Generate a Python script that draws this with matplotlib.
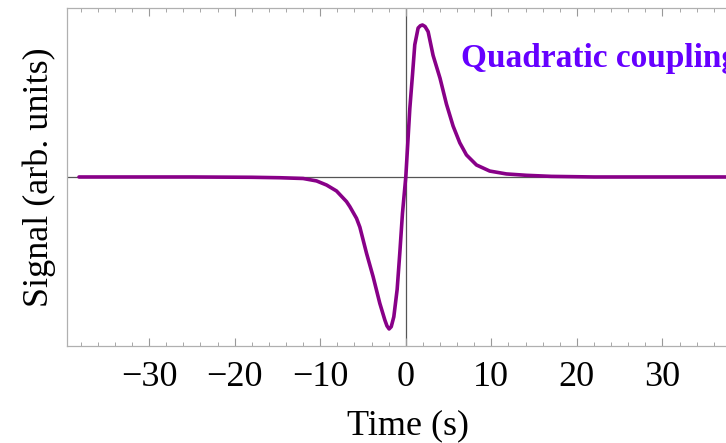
import numpy as np
import matplotlib.pyplot as plt
from matplotlib.ticker import MultipleLocator

plt.rcParams['font.family'] = ['Liberation Serif', 'DejaVu Serif']

# values
time_s = [-38.2, -25.0, -18.0, -14.7, -12.0, -10.43, -9.26, -8.1, -6.93, -6.54,
          -5.76, -5.37, -4.59, -3.82, -3.04, -2.45, -2.2, -1.95, -1.7, -1.40,
          -1.01, -0.70, -0.39, 0.0, 0.47, 0.78, 1.05, 1.44, 1.7, 1.95, 2.25,
          2.61, 3.19, 4.0, 4.75, 5.53, 6.31, 7.09, 8.26, 9.81, 11.76, 14.1,
          17.0, 22.0, 40.0]
signal = [0.0, 0.0, -0.002, -0.005, -0.01, -0.026, -0.053, -0.092, -0.162, -0.195,
          -0.272, -0.33, -0.502, -0.656, -0.831, -0.941, -0.98, -1.0, -0.985, -0.92,
          -0.74, -0.50, -0.24, 0.0, 0.45, 0.67, 0.87, 0.98, 0.995, 1.0, 0.99,
          0.956, 0.80, 0.65, 0.48, 0.335, 0.225, 0.145, 0.079, 0.039, 0.020, 0.011,
          0.004, 0.0, 0.0]
major_ticks = [-30, -20, -10, 0, 10, 20, 30]
label_text = "Quadratic coupling"

fig = plt.figure(figsize=(7.26, 4.43), dpi=100)
ax = fig.add_axes([0.0923, 0.219, 0.938, 0.763])

ax.axhline(0, color='#555555', lw=0.9, zorder=1)
ax.axvline(0, color='#555555', lw=0.9, zorder=1)
ax.plot(time_s, signal, color='#880088', lw=2.6, zorder=2,
        solid_joinstyle='round', solid_capstyle='round')

ax.set_xlim(-39.6, 40)
ax.set_ylim(-1.112, 1.112)

ax.set_xticks(major_ticks)
ax.set_xticklabels(['\u2212' + str(-t) if t < 0 else str(t) for t in major_ticks])
ax.xaxis.set_minor_locator(MultipleLocator(2))
ax.set_yticks([])
ax.tick_params(axis='x', which='both', direction='in', top=True, bottom=True,
               color='#999999', labelsize=26, pad=11)
ax.tick_params(axis='x', which='major', length=6, width=0.8)
ax.tick_params(axis='x', which='minor', length=3, width=0.6)
for s in ax.spines.values():
    s.set_color('#b0b0b0')
    s.set_linewidth(0.9)

ax.set_xlabel('Time (s)', fontsize=26, labelpad=11)
ax.set_ylabel('Signal (arb. units)', fontsize=26, labelpad=8)

# the reference crops this label at the right edge as well
ax.text(6.4, 0.78, label_text, color='#6600ff', fontsize=24, fontweight='bold',
        va='center', ha='left')

fig.savefig('out.png', dpi=100)
